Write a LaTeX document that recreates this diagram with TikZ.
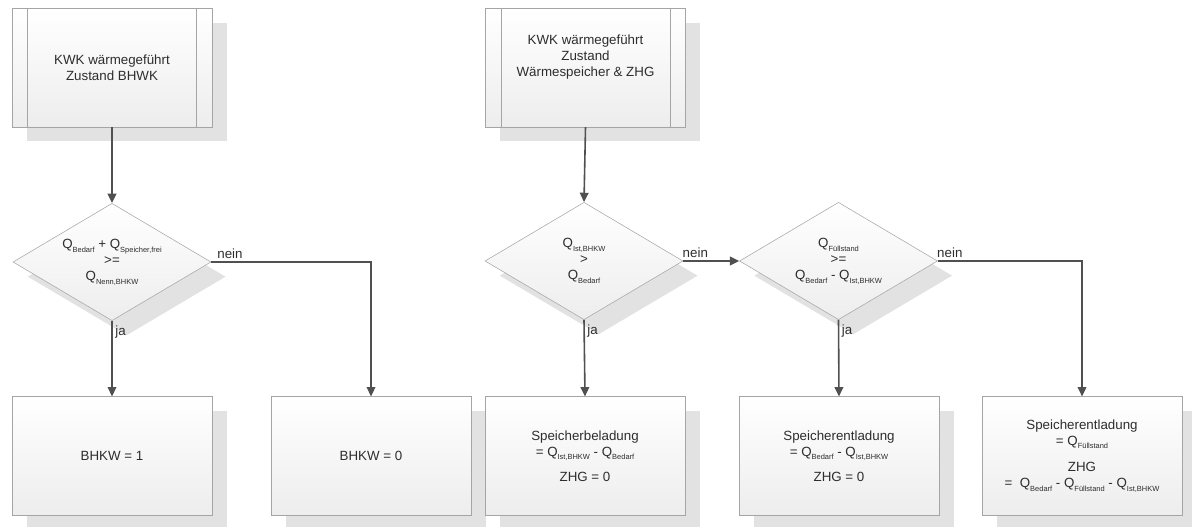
\documentclass[tikz,border=0pt]{standalone}
\usepackage{fontspec}
\setmainfont{Liberation Sans}
\usepackage{tikz}
\usetikzlibrary{arrows.meta,shapes.geometric,shadows}
\definecolor{linegray}{RGB}{80,80,80}
\definecolor{framegray}{RGB}{165,165,165}
\definecolor{shadowgray}{RGB}{226,226,226}
\definecolor{textgray}{RGB}{45,45,45}
\newcommand{\Qidx}[1]{Q\raisebox{-0.55ex}{\fontsize{5.6}{6}\selectfont #1}}

\tikzset{
  flowbox/.style={rectangle, draw=framegray, top color=white, bottom color=black!7,
    minimum width=150pt, minimum height=89pt, align=center, text=textgray,
    font=\fontsize{10}{12}\selectfont,
    drop shadow={shadow xshift=11pt, shadow yshift=-11pt, fill=shadowgray, opacity=1}},
  decision/.style={diamond, aspect=1.69, inner sep=0pt, minimum width=148.5pt,
    minimum height=88pt, draw=framegray, top color=white, bottom color=black!7,
    align=center, text=textgray, font=\fontsize{10}{12}\selectfont,
    drop shadow={shadow xshift=11pt, shadow yshift=-11pt, fill=shadowgray, opacity=1}},
  flow/.style={->, draw=linegray, line width=1.2pt},
  branch/.style={text=textgray, font=\fontsize{10}{12}\selectfont, inner sep=2pt},
}

\begin{document}
\begin{tikzpicture}[x=0.75pt,y=-0.75pt,>={Triangle[length=7pt,width=6.5pt]}]
  \useasboundingbox (0,0) rectangle (1192,527);

  % Startbloecke
  \node[flowbox] (kwk1) at (112,67.5) {KWK wärmegeführt\\Zustand BHWK};
  \node[flowbox] (kwk2) at (585.5,67.5) {KWK wärmegeführt\\Zustand\\Wärmespeicher \& ZHG\\[6pt]};
  \foreach \n in {kwk1,kwk2} {
    \draw[framegray] ([xshift=12pt]\n.north west) -- ([xshift=12pt]\n.south west);
    \draw[framegray] ([xshift=-12pt]\n.north east) -- ([xshift=-12pt]\n.south east);
  }

  % Entscheidungen
  \node[decision] (frage1) at (112,262)
    {\Qidx{Bedarf} + \Qidx{Speicher,frei}\\>=\\\Qidx{Nenn,BHKW}};
  \node[decision] (frage2) at (584,261) {\Qidx{Ist,BHKW}\\>\\\Qidx{Bedarf}};
  \node[decision] (frage3) at (838.5,261)
    {\Qidx{Füllstand}\\>=\\\Qidx{Bedarf} - \Qidx{Ist,BHKW}};

  % Ergebnisse
  \node[flowbox] (bhkw1) at (112,456) {BHKW = 1};
  \node[flowbox] (bhkw0) at (371,456) {BHKW = 0};
  \node[flowbox] (beladung) at (585,456)
    {Speicherbeladung\\= \Qidx{Ist,BHKW} - \Qidx{Bedarf}\\[7pt]ZHG = 0};
  \node[flowbox] (entladung) at (839,456)
    {Speicherentladung\\= \Qidx{Bedarf} - \Qidx{Ist,BHKW}\\[7pt]ZHG = 0};
  \node[flowbox] (entladungzhg) at (1082,456)
    {Speicherentladung\\= \Qidx{Füllstand}\\[8pt]ZHG\\=\ \ \Qidx{Bedarf} - \Qidx{Füllstand} - \Qidx{Ist,BHKW}};

  % Verbindungen
  \draw[flow] (kwk1.south) -- (frage1.north);
  \draw[flow] (frage1.south) -- node[branch, pos=0, anchor=north west, yshift=-1pt] {ja} (bhkw1.north);
  \draw[flow] (frage1.east) -| node[branch, pos=0, anchor=south west, xshift=2pt] {nein} (bhkw0.north);
  \draw[flow] (kwk2.south) -- (frage2.north);
  \draw[flow] (frage2.east) -- node[branch, pos=0, anchor=south west, xshift=-3pt] {nein} (frage3.west);
  \draw[flow] (frage2.south) -- node[branch, pos=0, anchor=north west, yshift=-1pt] {ja} (beladung.north);
  \draw[flow] (frage3.south) -- node[branch, pos=0, anchor=north west, yshift=-1pt] {ja} (entladung.north);
  \draw[flow] (frage3.east) -| node[branch, pos=0, anchor=south west, xshift=-3pt] {nein} (entladungzhg.north);
\end{tikzpicture}
\end{document}
